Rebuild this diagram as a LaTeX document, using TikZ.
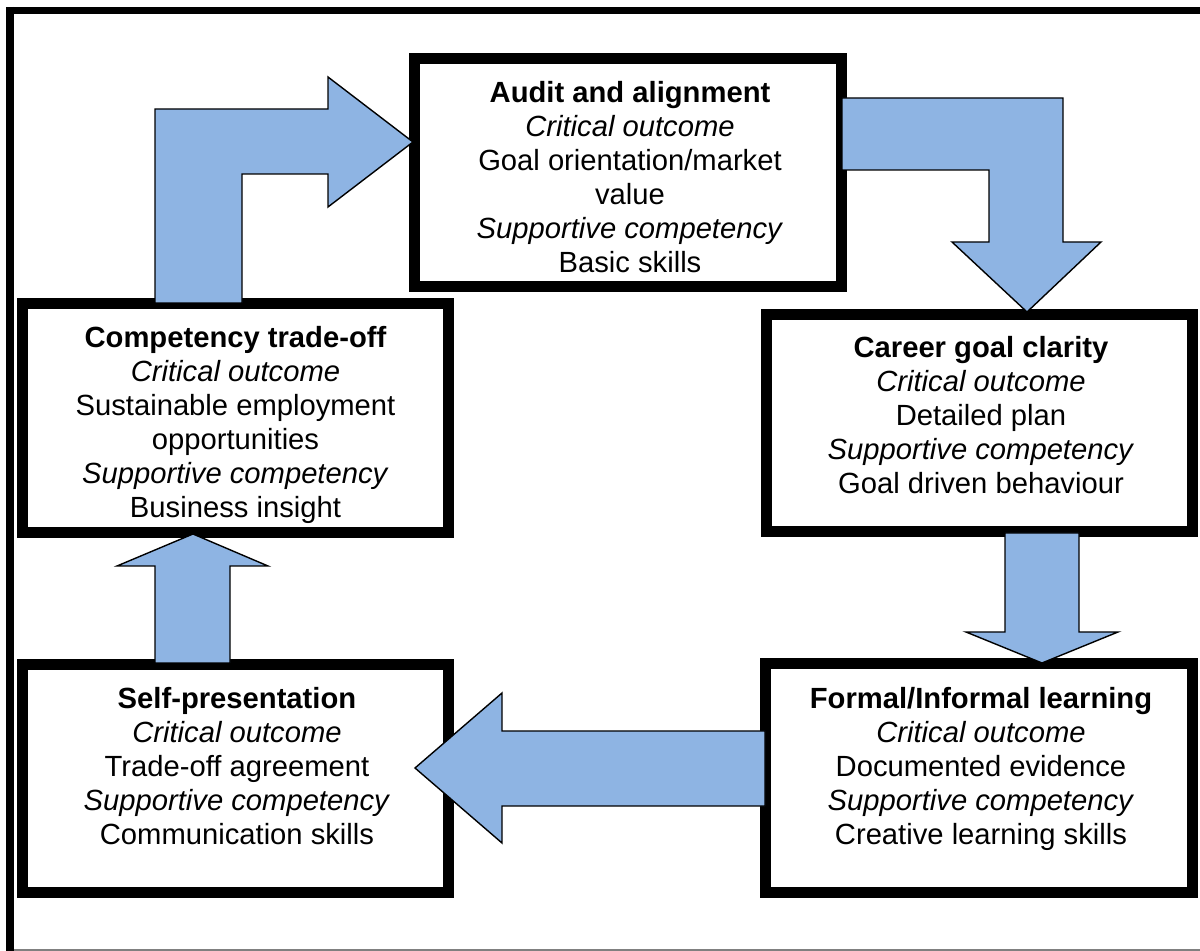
\documentclass[tikz,border=0pt]{standalone}
\usepackage{fontspec}
\setmainfont{Liberation Sans}
\definecolor{arrowblue}{RGB}{142,180,227}
\tikzset{
  stagebox/.style={draw=black, line width=5.5pt, fill=white, rectangle, inner sep=0pt, outer sep=0pt},
  stagetext/.style={align=center, inner sep=0pt, font=\fontsize{14.6}{17}\selectfont, anchor=base},
  blockarrow/.style={fill=arrowblue, draw=black, line width=0.7pt, line join=miter},
}
\begin{document}
\begin{tikzpicture}[x=0.5pt,y=-0.5pt]
\useasboundingbox (0,0) rectangle (1200,951);
% outer frame
\draw[line width=3.5pt] (6,10.5) -- (1200,10.5);
\draw[line width=4pt] (10,7) -- (10,951);
\draw[gray, line width=0.6pt] (14,950) -- (1200,950);

% boxes
\node[stagebox, minimum width=213.5pt, minimum height=114pt] (audit) at (628,172.5) {};
\node[stagebox, minimum width=213pt, minimum height=114.5pt] (comp) at (235.5,418) {};
\node[stagebox, minimum width=213pt, minimum height=108.5pt] (career) at (979.5,423) {};
\node[stagebox, minimum width=213pt, minimum height=114pt] (self) at (235.5,778.5) {};
\node[stagebox, minimum width=213.5pt, minimum height=114.5pt] (formal) at (979,778) {};

% texts (base anchor = baseline of last line)
\node[stagetext] (audit-t) at (630,273) {\textbf{Audit and alignment}\\\textit{Critical outcome}\\Goal orientation/market\\value\\\textit{Supportive competency}\\Basic skills};
\begin{scope}
\clip (29,310) rectangle (443,527);
\node[stagetext] (comp-t) at (235.5,518) {\textbf{Competency trade-off}\\\textit{Critical outcome}\\Sustainable employment\\opportunities\\\textit{Supportive competency}\\Business insight};
\end{scope}
\node[stagetext] (career-t) at (981,494) {\textbf{Career goal clarity}\\\textit{Critical outcome}\\Detailed plan\\\textit{Supportive competency}\\Goal driven behaviour};
\node[stagetext] (self-t) at (237,844) {\textbf{Self-presentation}\\\textit{Critical outcome}\\Trade-off agreement\\\textit{Supportive competency}\\Communication skills};
\node[stagetext] (formal-t) at (981,844) {\textbf{Formal/Informal learning}\\\textit{Critical outcome}\\Documented evidence\\\textit{Supportive competency}\\Creative learning skills};

% block arrows
% competency trade-off -> audit (bent)
\draw[blockarrow] (155,303) -- (155,109) -- (328,109) -- (328,77) -- (413,142) -- (328,207) -- (328,174) -- (242,174) -- (242,303) -- cycle;
% audit -> career (bent)
\draw[blockarrow] (842,98) -- (1063,98) -- (1063,242) -- (1101,242) -- (1027,312) -- (952,242) -- (989,242) -- (989,170) -- (842,170) -- cycle;
% career -> formal
\draw[blockarrow] (1005,533) -- (1079,533) -- (1079,632) -- (1118,632) -- (1042,663) -- (966,632) -- (1005,632) -- cycle;
% formal -> self
\draw[blockarrow] (765,731) -- (502,731) -- (502,693) -- (415,768) -- (502,843) -- (502,806) -- (765,806) -- cycle;
% self -> competency
\draw[blockarrow] (155,663) -- (155,566) -- (117,566) -- (193,534) -- (268,566) -- (230,566) -- (230,663) -- cycle;
\end{tikzpicture}
\end{document}
